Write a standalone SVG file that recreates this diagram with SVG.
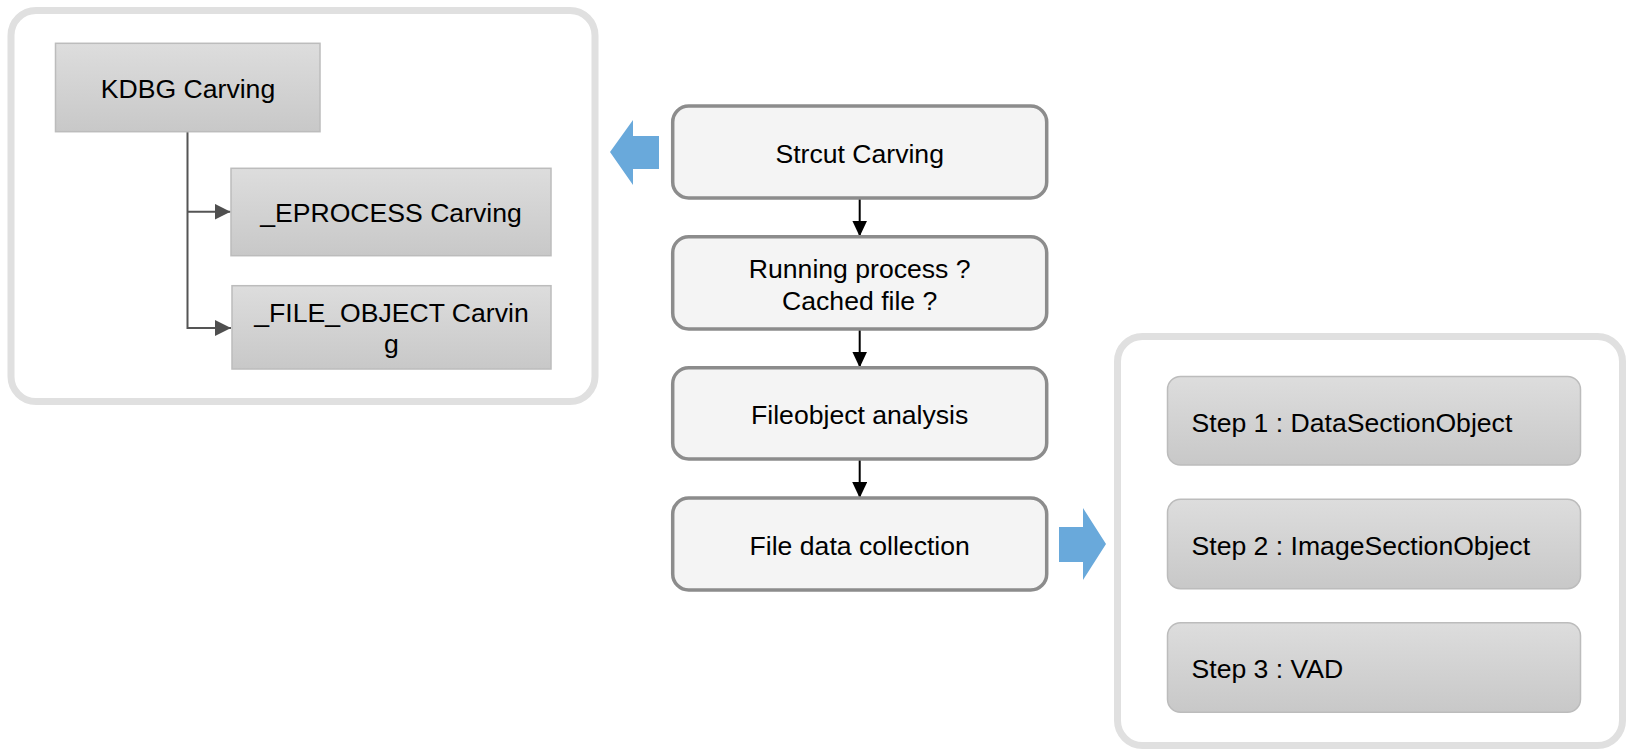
<svg xmlns="http://www.w3.org/2000/svg" width="1627" height="749" viewBox="0 0 1627 749">
  <defs>
    <linearGradient id="gray" x1="0" y1="0" x2="0" y2="1">
      <stop offset="0" stop-color="#dddddd"/>
      <stop offset="1" stop-color="#c8c8c8"/>
    </linearGradient>
    <marker id="headDark" viewBox="0 0 16 16" refX="16" refY="8" markerWidth="16" markerHeight="16" markerUnits="userSpaceOnUse" orient="auto">
      <path d="M0,0 L16,8 L0,16 Z" fill="#4f4f4f"/>
    </marker>
    <marker id="headBlack" viewBox="0 0 16 15" refX="16" refY="7.5" markerWidth="16" markerHeight="15" markerUnits="userSpaceOnUse" orient="auto">
      <path d="M0,0 L16,7.5 L0,15 Z" fill="#000000"/>
    </marker>
  </defs>
  <style>
    text { font-family: "Liberation Sans", Arial, Helvetica, sans-serif; font-size: 26.6px; fill: #000000; }
    .mid { text-anchor: middle; }
    .panel { fill: #ffffff; stroke: #e0e0e0; stroke-width: 7; }
    .sub { fill: url(#gray); stroke: #bcbcbc; stroke-width: 1.5; }
    .flow { fill: #f4f4f4; stroke: #8c8c8c; stroke-width: 3.5; }
    .tree { fill: none; stroke: #555555; stroke-width: 2; }
    .link { fill: none; stroke: #000000; stroke-width: 2; }
    .big { fill: #69a9db; }
  </style>

  <rect width="1627" height="749" fill="#ffffff"/>

  <!-- container panels -->
  <rect id="panel-carving" class="panel" x="11" y="10.5" width="584" height="391" rx="25"/>
  <rect id="panel-steps" class="panel" x="1117.5" y="336.5" width="505" height="409" rx="25"/>

  <!-- connectors -->
  <g id="connectors">
    <path class="tree" d="M187.5,131.7 V328 H231" marker-end="url(#headDark)"/>
    <path class="tree" d="M187.5,211.7 H230.5" marker-end="url(#headDark)"/>
    <path class="link" d="M859.7,198 V236.5" marker-end="url(#headBlack)"/>
    <path class="link" d="M859.7,329 V367.5" marker-end="url(#headBlack)"/>
    <path class="link" d="M859.7,459 V498" marker-end="url(#headBlack)"/>
    <!-- block arrows -->
    <polygon class="big" points="610,152 633,120 633,136 659,136 659,169 633,169 633,185"/>
    <polygon class="big" points="1059,527 1083,527 1083,508 1106,544 1083,580 1083,562 1059,562"/>
  </g>

  <!-- carving tree -->
  <g id="kdbg">
    <rect class="sub" x="55.5" y="43.3" width="264.5" height="88.4"/>
    <text class="mid" x="188" y="97.7">KDBG Carving</text>
  </g>
  <g id="eprocess">
    <rect class="sub" x="231" y="168.3" width="320" height="87.4"/>
    <text class="mid" x="391" y="221.7">_EPROCESS Carving</text>
  </g>
  <g id="file-object">
    <rect class="sub" x="232" y="285.7" width="319" height="83.3"/>
    <text class="mid" x="391.5" y="321.7">_FILE_OBJECT Carvin</text>
    <text class="mid" x="391.5" y="352.7">g</text>
  </g>

  <!-- main flow -->
  <g id="strcut-carving">
    <rect class="flow" x="672.7" y="106" width="374" height="92" rx="16"/>
    <text class="mid" x="859.7" y="163.3">Strcut Carving</text>
  </g>
  <g id="running-process">
    <rect class="flow" x="672.7" y="236.7" width="374" height="92.3" rx="16"/>
    <text class="mid" x="859.7" y="278.3">Running process ?</text>
    <text class="mid" x="859.7" y="310">Cached file ?</text>
  </g>
  <g id="fileobject-analysis">
    <rect class="flow" x="672.7" y="367.7" width="374" height="91.3" rx="16"/>
    <text class="mid" x="859.7" y="424.3">Fileobject analysis</text>
  </g>
  <g id="file-data-collection">
    <rect class="flow" x="672.7" y="498" width="374" height="92" rx="16"/>
    <text class="mid" x="859.7" y="555">File data collection</text>
  </g>

  <!-- section steps -->
  <g id="step-1">
    <rect class="sub" x="1167.5" y="376.5" width="413" height="88.5" rx="13"/>
    <text x="1191.5" y="431.7">Step 1 : DataSectionObject</text>
  </g>
  <g id="step-2">
    <rect class="sub" x="1167.5" y="499.3" width="413" height="89.4" rx="13"/>
    <text x="1191.5" y="555">Step 2 : ImageSectionObject</text>
  </g>
  <g id="step-3">
    <rect class="sub" x="1167.5" y="622.7" width="413" height="89.6" rx="13"/>
    <text x="1191.5" y="678.3">Step 3 : VAD</text>
  </g>
</svg>
